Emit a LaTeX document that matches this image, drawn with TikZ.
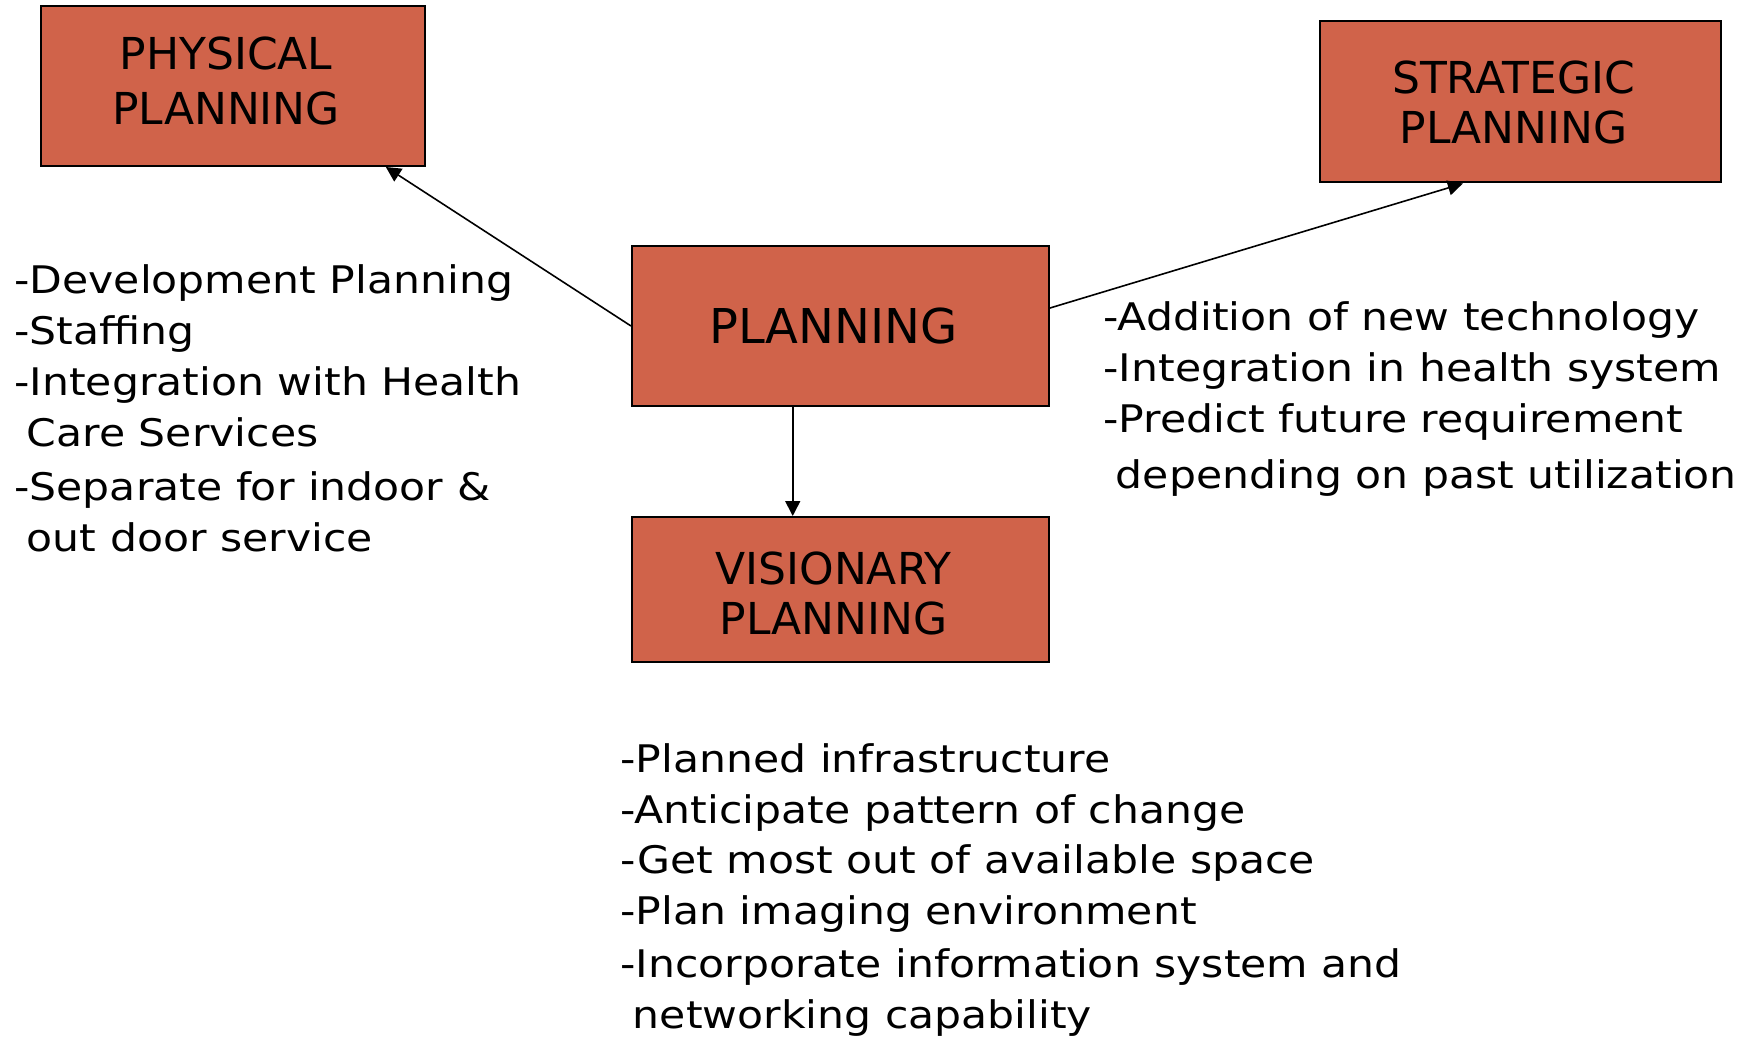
\documentclass[tikz,border=0pt]{standalone}
\usepackage{fontspec}
\setmainfont{DejaVu Sans}
\newfontfamily\bodyfont[FakeStretch=1.12]{DejaVu Sans}
\usetikzlibrary{arrows.meta,calc}
\definecolor{boxfill}{RGB}{208,99,74}
\begin{document}
\begin{tikzpicture}[x=0.5pt,y=-0.5pt,
  box/.style={draw=black, line width=1pt, fill=boxfill, inner sep=0pt},
  boxtext/.style={align=center, inner sep=0pt, xshift=-3.5pt,
    font=\fontsize{22}{25}\selectfont},
  arr/.style={line width=0.8pt, -{Triangle[length=7.5pt,width=7.5pt]}},
  body/.style={align=left, inner sep=0pt, anchor=base west,
    font=\bodyfont\fontsize{19}{25.5}\selectfont}]
\useasboundingbox (0,0) rectangle (1750,1037);
% boxes
\node[box, minimum width=192pt, minimum height=80pt,
  label={[boxtext, yshift=2.5pt, font=\fontsize{22}{27.5}\selectfont]center:PHYSICAL\\PLANNING}] (phys) at (233,86) {};
\node[box, minimum width=200.5pt, minimum height=80.5pt,
  label={[boxtext]center:STRATEGIC\\PLANNING}] (strat) at (1520.5,102) {};
\node[box, minimum width=208.5pt, minimum height=80pt,
  label={[boxtext, font=\fontsize{24}{28}\selectfont]center:PLANNING}] (plan) at (840.5,326) {};
\node[box, minimum width=208.5pt, minimum height=72.5pt,
  label={[boxtext, yshift=-1.75pt]center:VISIONARY\\PLANNING}] (vis) at (840.5,589.5) {};
% connectors
\draw[arr] (plan.west) -- ($(phys.south west)!0.896!(phys.south east)$);
\draw[arr] ($(plan.east)+(0,-18)$) -- ($(strat.south west)!0.357!(strat.south east)$);
\coordinate (vtop) at ($(plan.south west)!0.386!(plan.south east)$);
\draw[arr] (vtop) -- (vtop |- vis.north);
% texts (anchored at the baseline of their last line)
\node[body] (ltxt) at (14,551) {-Development Planning\\-Staffing\\-Integration with Health\\\hspace*{0.33em}Care Services\\[1.5pt]-Separate for indoor \&\\\hspace*{0.33em}out door service};
\node[body] (rtxt) at (1103,488) {-Addition of new technology\\-Integration in health system\\-Predict future requirement\\[2.5pt]\hspace*{0.33em}depending on past utilization};
\node[body, font=\bodyfont\fontsize{19}{25.25}\selectfont] (btxt) at (620,1028) {-Planned infrastructure\\-Anticipate pattern of change\\-Get most out of available space\\-Plan imaging environment\\[1.5pt]-Incorporate information system and\\\hspace*{0.33em}networking capability};
\end{tikzpicture}
\end{document}
